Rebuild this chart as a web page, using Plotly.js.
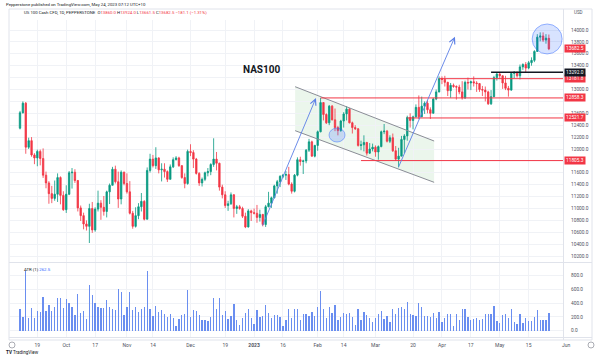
<!DOCTYPE html>
<html><head><meta charset="utf-8">
<script src="https://cdn.plot.ly/plotly-3.0.1.min.js"></script>
<style>html,body{margin:0;padding:0;background:#fff;}#chart{width:602px;height:357px;}</style>
</head><body><div id="chart"></div>
<script>
const dates = [
"2022-09-09","2022-09-12","2022-09-13","2022-09-14","2022-09-15","2022-09-16","2022-09-19","2022-09-20","2022-09-21","2022-09-22","2022-09-23","2022-09-26","2022-09-27","2022-09-28","2022-09-29","2022-09-30",
"2022-10-03","2022-10-04","2022-10-05","2022-10-06","2022-10-07","2022-10-10","2022-10-11","2022-10-12","2022-10-13","2022-10-14","2022-10-17","2022-10-18","2022-10-19","2022-10-20","2022-10-21","2022-10-24","2022-10-25","2022-10-26","2022-10-27","2022-10-28","2022-10-31",
"2022-11-01","2022-11-02","2022-11-03","2022-11-04","2022-11-07","2022-11-08","2022-11-09","2022-11-10","2022-11-11","2022-11-14","2022-11-15","2022-11-16","2022-11-17","2022-11-18","2022-11-21","2022-11-22","2022-11-23","2022-11-24","2022-11-25","2022-11-28","2022-11-29","2022-11-30",
"2022-12-01","2022-12-02","2022-12-05","2022-12-06","2022-12-07","2022-12-08","2022-12-09","2022-12-12","2022-12-13","2022-12-14","2022-12-15","2022-12-16","2022-12-19","2022-12-20","2022-12-21","2022-12-22","2022-12-23","2022-12-26","2022-12-27","2022-12-28","2022-12-29","2022-12-30",
"2023-01-02","2023-01-03","2023-01-04","2023-01-05","2023-01-06","2023-01-09","2023-01-10","2023-01-11","2023-01-12","2023-01-13","2023-01-16","2023-01-17","2023-01-18","2023-01-19","2023-01-20","2023-01-23","2023-01-24","2023-01-25","2023-01-26","2023-01-27","2023-01-30","2023-01-31",
"2023-02-01","2023-02-02","2023-02-03","2023-02-06","2023-02-07","2023-02-08","2023-02-09","2023-02-10","2023-02-13","2023-02-14","2023-02-15","2023-02-16","2023-02-17","2023-02-20","2023-02-21","2023-02-22","2023-02-23","2023-02-24","2023-02-27","2023-02-28",
"2023-03-01","2023-03-02","2023-03-03","2023-03-06","2023-03-07","2023-03-08","2023-03-09","2023-03-10","2023-03-13","2023-03-14","2023-03-15","2023-03-16","2023-03-17","2023-03-20","2023-03-21","2023-03-22","2023-03-23","2023-03-24","2023-03-27","2023-03-28","2023-03-29","2023-03-30","2023-03-31",
"2023-04-03","2023-04-04","2023-04-05","2023-04-06","2023-04-07","2023-04-10","2023-04-11","2023-04-12","2023-04-13","2023-04-14","2023-04-17","2023-04-18","2023-04-19","2023-04-20","2023-04-21","2023-04-24","2023-04-25","2023-04-26","2023-04-27","2023-04-28",
"2023-05-01","2023-05-02","2023-05-03","2023-05-04","2023-05-05","2023-05-08","2023-05-09","2023-05-10","2023-05-11","2023-05-12","2023-05-15","2023-05-16","2023-05-17","2023-05-18","2023-05-19","2023-05-22","2023-05-23","2023-05-24"];

const openP = [12350,12610,12770,12030,12140,11900,11850,11960,11840,11560,11430,11250,11170,11240,11520,11220,
10980,11240,11600,11610,11470,11010,10880,10740,10700,11000,10640,10990,11090,11020,10950,11280,11390,11660,11450,11160,11610,
11420,11280,10920,10700,10880,11030,11120,10820,11640,11830,11720,11850,11650,11660,11620,11490,11700,11820,11850,11720,11520,
11420,11960,11940,11830,11590,11430,11490,11600,11620,11740,11830,11760,11360,11230,11050,11080,11230,11000,11030,11000,10870,10690,
10960,10930,10920,10850,10900,10730,11030,11090,11180,11380,11450,11540,11560,11570,11410,11290,11560,11820,11790,11800,11980,12120,
11880,12060,12290,12780,12580,12440,12720,12490,12360,12310,12470,12590,12670,12440,12360,12340,12060,12070,12110,11930,12000,
12030,11950,12040,12290,12300,12130,12190,11970,11830,11880,12160,12220,12530,12480,12540,12700,12540,12720,12770,12660,12600,12840,12960,
13182,13170,13120,12980,13070,13050,13040,12960,12860,13120,13110,13130,13110,13100,13000,12990,12960,12760,12880,13200,
13260,13230,13110,13020,12990,13270,13290,13230,13380,13420,13360,13450,13490,13640,13880,13900,13830,13860];
const highP = [12640,12800,12790,12190,12200,11930,11990,11990,12010,11620,11460,11380,11470,11590,11540,11290,
11390,11630,11680,11660,11480,11050,10930,10800,11080,11110,11020,11300,11140,11210,11300,11420,11700,11720,11620,11640,11620,
11590,11460,10960,11020,11090,11260,11140,11690,11920,11900,12030,11860,11760,11760,11640,11740,11860,11880,11870,11730,11590,11990,
12080,11980,11850,11610,11520,11620,11680,11760,12180,11950,11770,11400,11290,11130,11270,11240,11060,11060,11030,10930,10990,10980,
11000,11060,10980,10910,11060,11280,11200,11400,11480,11560,11580,11630,11700,11440,11580,11860,11870,11820,12000,12170,12140,12070,
12310,12858,12790,12600,12740,12740,12680,12390,12490,12620,12720,12690,12460,12400,12350,12140,12230,12120,12100,12090,
12060,12060,12310,12420,12320,12230,12260,12050,12020,12220,12250,12560,12600,12560,12750,12900,12880,12800,12820,12700,12860,13000,13220,
13220,13230,13130,13110,13100,13070,13080,13140,13150,13200,13150,13220,13140,13110,13060,13050,12980,12990,13230,13292,
13290,13240,13230,13060,13290,13310,13300,13420,13440,13460,13480,13540,13660,13930,13960,13960,13930,13924];
const lowP = [12330,12595,11920,12000,11870,11745,11710,11725,11515,11340,11080,11090,11130,11110,11070,10960,
10925,11225,11335,11430,10950,10790,10650,10630,10420,10590,10610,10950,10810,10880,10850,11075,11390,11420,11010,11070,11390,
11250,10900,10660,10680,10820,10950,10800,10830,11605,11690,11665,11590,11455,11520,11445,11490,11680,11810,11700,11500,11340,11400,
11880,11680,11570,11380,11370,11460,11540,11560,11700,11640,11300,11170,11010,10960,11060,10850,10910,10980,10840,10670,10680,10790,
10900,10760,10780,10700,10690,11020,11010,11170,11250,11360,11510,11480,11390,11250,11270,11540,11720,11580,11760,11950,11870,11860,
11970,12280,12480,12420,12400,12480,12300,12230,12290,12360,12480,12430,12260,12320,12040,11980,11960,11890,11920,11960,
11870,11820,12030,12250,12110,12100,11950,11800,11690,11880,11930,12140,12360,12330,12530,12500,12540,12590,12600,12505,12600,12820,12950,
13090,13050,12890,12860,13030,12830,12920,12830,12840,13000,12990,13050,12960,12960,12890,12800,12740,12740,12870,13150,
13180,13010,12990,12880,12980,13190,13200,13170,13330,13280,13340,13400,13460,13630,13810,13800,13770,13661.5];
const closeP = [12610,12770,12030,12140,11900,11850,11960,11840,11560,11430,11250,11170,11240,11520,11220,10980,
11240,11600,11610,11470,11010,10880,10740,10700,11000,10640,10990,11090,11020,10950,11280,11390,11660,11450,11160,11610,11420,
11280,10920,10700,10880,11030,11120,10820,11640,11830,11720,11850,11650,11660,11620,11490,11700,11820,11850,11720,11520,11420,11960,
11940,11830,11590,11430,11490,11600,11620,11740,11830,11760,11360,11230,11050,11080,11230,11000,11030,11000,10870,10690,10960,10930,
10920,10850,10900,10730,11030,11090,11180,11380,11450,11540,11560,11570,11410,11290,11560,11820,11790,11800,11980,12120,11880,12060,
12290,12780,12580,12440,12720,12490,12360,12310,12470,12590,12670,12440,12360,12340,12060,12070,12110,11930,12000,12030,
11950,12040,12290,12300,12130,12190,11970,11830,11880,12160,12220,12530,12480,12540,12700,12540,12720,12770,12660,12600,12840,12960,13182,
13170,13120,12980,13070,13050,13040,12960,12860,13120,13110,13130,13110,13100,13000,12990,12960,12760,12880,13200,13260,
13230,13110,13020,12990,13270,13290,13230,13380,13420,13360,13450,13490,13640,13880,13900,13830,13863.6,13682.5];

const priceTicks = [10200,10400,10600,10800,11000,11200,11400,11600,11800,12000,12200,12400,12600,12800,13000,13200,13400,13600,13800,14000];
const hiddenPriceTicks = [11800,12800,13200];
const atrTicks = [0,200,400,600,800];
const tickDates = ["2022-09-19","2022-10-03","2022-10-17","2022-11-01","2022-11-14","2022-12-01","2022-12-19","2023-01-02","2023-01-16","2023-02-01","2023-02-14","2023-03-01","2023-03-20","2023-04-03","2023-04-17","2023-05-01","2023-05-15"];
const tickLabels = ["19","Oct","17","Nov","14","Dec","19","<b>2023</b>","16","Feb","14","Mar","20","Apr","17","May","15"];
const levelValues = [13292.0, 13181.8, 12858.3, 12521.7, 11805.3];
const levelFrom = ["2023-04-26","2023-03-31","2023-02-02","2023-03-16","2023-02-22"];
const lastPrice = 13682.5;

// ---- derived ----
const idx = dates.map((d,i)=>i);
const atr = closeP.map((c,i)=> i===0 ? highP[0]-lowP[0] :
  Math.max(highP[i], closeP[i-1]) - Math.min(lowP[i], closeP[i-1]));
const di = d => dates.indexOf(d);

// pixel helpers (plot area x:10..563, y:20..337)
const L=10,R=563,T=20,B=337;
const px = x => (x-L)/(R-L);
const py = y => (B-y)/(B-T);
const step = 2.89, x0pix = 20;
const xr = [(L-x0pix)/step, (R-x0pix)/step];
const yMain = [14000-(262-30)/0.0595, 14000+(30-T)/0.0595];
const yAtr = [-(B-330.7)/0.06875, (330.7-263)/0.06875];

const red='#f23645', green='#089981', blue='#5b7fe6';
const font = 'Roboto, Arial, sans-serif';

const traces = [
 {type:'candlestick', x:idx, open:openP, high:highP, low:lowP, close:closeP,
  increasing:{line:{color:green,width:0.8},fillcolor:green},
  decreasing:{line:{color:red,width:0.8},fillcolor:red},
  whiskerwidth:0, xaxis:'x', yaxis:'y', hoverinfo:'skip', showlegend:false},
 {type:'bar', x:idx, y:atr, width:0.45, marker:{color:'#6a8ef0',line:{width:0}},
  xaxis:'x', yaxis:'y2', hoverinfo:'skip', showlegend:false}
];

const shapes = [];
shapes.push({type:'rect',xref:'paper',yref:'paper',x0:px(9),x1:px(592),y0:py(340),y1:py(9),line:{color:'#e0e3eb',width:1},fillcolor:'rgba(0,0,0,0)'});
shapes.push({type:'line',xref:'paper',yref:'paper',x0:px(9),x1:px(592),y0:py(262.5),y1:py(262.5),line:{color:'#e0e3eb',width:1}});
shapes.push({type:'line',xref:'paper',yref:'paper',x0:px(9),x1:px(592),y0:py(337.5),y1:py(337.5),line:{color:'#e0e3eb',width:1}});
shapes.push({type:'line',xref:'paper',yref:'paper',x0:px(563.5),x1:px(563.5),y0:py(340),y1:py(9),line:{color:'#e0e3eb',width:1}});
// channel
const chA=[95.2,13047], chB=[143.3,12134], chC=[143.3,11440], chD=[95.2,12308];
shapes.push({type:'path',xref:'x',yref:'y',layer:'below',
  path:`M ${chA[0]},${chA[1]} L ${chB[0]},${chB[1]} L ${chC[0]},${chC[1]} L ${chD[0]},${chD[1]} Z`,
  fillcolor:'rgba(76,175,80,0.11)',line:{width:0}});
shapes.push({type:'line',xref:'x',yref:'y',x0:chA[0],y0:chA[1],x1:chB[0],y1:chB[1],line:{color:'#8a8d96',width:1}});
shapes.push({type:'line',xref:'x',yref:'y',x0:chD[0],y0:chD[1],x1:chC[0],y1:chC[1],line:{color:'#8a8d96',width:1}});
// horizontal levels
levelValues.forEach((v,i)=>{
  shapes.push({type:'line',xref:'x',yref:'y',x0:di(levelFrom[i]),x1:xr[1],y0:v,y1:v,
    line:{color: i===0 ? '#131722' : red, width: i===0 ? 1.5 : 1}});
});
// circles
shapes.push({type:'circle',xref:'x',yref:'y',xsizemode:'pixel',ysizemode:'pixel',xanchor:109.7,yanchor:12235,
  x0:-8,x1:8,y0:-7,y1:7,fillcolor:'rgba(41,98,255,0.2)',line:{color:'rgba(41,98,255,0.45)',width:1}});
shapes.push({type:'circle',xref:'x',yref:'y',xsizemode:'pixel',ysizemode:'pixel',xanchor:182.4,yanchor:13849,
  x0:-15,x1:15,y0:-15,y1:15,fillcolor:'rgba(41,98,255,0.18)',line:{color:'rgba(41,98,255,0.45)',width:1}});
// settings icons
[[12,345],[591,345]].forEach(p=>shapes.push({type:'circle',xref:'paper',yref:'paper',
  x0:px(p[0]-3),x1:px(p[0]+3),y0:py(p[1]+3),y1:py(p[1]-3),line:{color:'#9598a1',width:0.8}}));

const ann = [];
const txt = (x,y,text,size,color,anchor,extra) => Object.assign({xref:'paper',yref:'paper',x:px(x),y:py(y),text,
  showarrow:false,xanchor:anchor||'left',yanchor:'middle',font:{family:font,size,color}},extra||{});
ann.push(txt(4,4,'Pepperstone published on TradingView.com, May 24, 2023 07:12 UTC+10',4.3,'#131722'));
const r = s => `<span style="color:${red}">${s}</span>`;
ann.push(txt(22,13,'US 100 Cash CFD, 1D, PEPPERSTONE  O'+r('13860.0')+' H'+r('13924.0')+' L'+r('13661.5')+' C'+r('13682.5')+' '+r('−181.1 (−1.31%)'),4.3,'#131722'));
ann.push(txt(572,13,'USD',4.5,'#50535e'));
ann.push(txt(22,269,'ATR (1) <span style="color:#2962ff">262.5</span>',4.3,'#131722'));
ann.push(txt(4,352,'<b>TV</b> TradingView',4.6,'#131722'));
ann.push(txt(x0pix+step*(dates.length-1+6), 345, 'Jun', 5, '#50535e','center'));
ann.push({xref:'x',yref:'y',x:83.4,y:13328,text:'<b>NAS100</b>',showarrow:false,font:{family:font,size:10,color:'#131722'}});
[[83.7,10689,102.4,12857],[130.8,11676,150.5,13887]].forEach(a=>ann.push({xref:'x',yref:'y',axref:'x',ayref:'y',
  ax:a[0],ay:a[1],x:a[2],y:a[3],text:'',showarrow:true,arrowhead:5,arrowsize:1.3,arrowwidth:0.9,arrowcolor:blue,standoff:0,startstandoff:0}));
const lab = (v,bg) => ({xref:'paper',yref:'y',x:px(564),y:v,text:v.toFixed(1),showarrow:false,xanchor:'left',yanchor:'middle',
  bgcolor:bg,borderpad:1,font:{family:font,size:4.8,color:'#ffffff'}});
ann.push(lab(levelValues[4],red));
ann.push(lab(levelValues[3],red));
ann.push(lab(levelValues[2],red));
ann.push(lab(levelValues[1],red));
ann.push(lab(levelValues[0],'#131722'));
ann.push(lab(lastPrice,red));

const layout = {
  width:602, height:357, paper_bgcolor:'#ffffff', plot_bgcolor:'#ffffff',
  margin:{l:L,r:602-R,t:T,b:357-B,pad:0}, showlegend:false, dragmode:false,
  font:{family:font,size:5,color:'#50535e'},
  xaxis:{range:xr, anchor:'y2', tickvals:tickDates.map(di), ticktext:tickLabels,
    tickfont:{family:font,size:5,color:'#50535e'}, showgrid:true, gridcolor:'#f0f2f6', gridwidth:1,
    zeroline:false, showline:false, ticks:'', ticklabelstandoff:4, rangeslider:{visible:false}, fixedrange:true},
  yaxis:{domain:[py(262),1], range:yMain, side:'right', tickvals:priceTicks,
    ticktext:priceTicks.map(v=>hiddenPriceTicks.includes(v)?'':v.toFixed(1)),
    tickfont:{family:font,size:4.8,color:'#50535e'}, showgrid:true, gridcolor:'#f0f2f6', zeroline:false, showline:false,
    ticks:'', ticklabelstandoff:7, fixedrange:true},
  yaxis2:{domain:[0,py(263)], range:yAtr, side:'right', tickvals:atrTicks, ticktext:atrTicks.map(v=>v.toFixed(1)),
    tickfont:{family:font,size:4.8,color:'#50535e'}, showgrid:true, gridcolor:'#f0f2f6', zeroline:false, showline:false,
    ticks:'', ticklabelstandoff:7, fixedrange:true},
  shapes, annotations:ann, bargap:0
};
Plotly.newPlot('chart', traces, layout, {staticPlot:true, displayModeBar:false});
</script></body></html>
